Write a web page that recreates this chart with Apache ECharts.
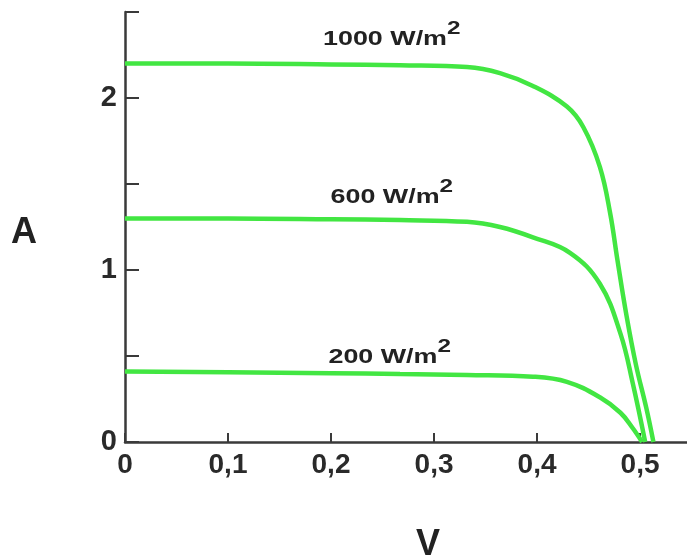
<!DOCTYPE html>
<html>
<head>
<meta charset="utf-8">
<script src="https://cdn.jsdelivr.net/npm/echarts@6/dist/echarts.min.js"></script>
<style>
  html, body { margin: 0; padding: 0; background: #ffffff; }
  #chart { width: 687px; height: 558px; }
</style>
</head>
<body>
<div id="chart"></div>
<script>
// ---- data ----
const curve1000 = [[0,2.20],[0.10,2.20],[0.20,2.195],[0.267,2.19],[0.332,2.18],[0.364,2.145],[0.396,2.07],[0.429,1.95],[0.445,1.83],[0.461,1.60],[0.471,1.33],[0.478,1.06],[0.487,0.73],[0.496,0.45],[0.506,0.20],[0.513,0.0]];
const curve600  = [[0,1.30],[0.10,1.30],[0.20,1.295],[0.267,1.29],[0.332,1.28],[0.364,1.25],[0.396,1.19],[0.432,1.10],[0.461,0.92],[0.481,0.63],[0.493,0.34],[0.505,0.0]];
const curve200  = [[0,0.41],[0.10,0.405],[0.20,0.40],[0.267,0.395],[0.332,0.39],[0.396,0.38],[0.429,0.35],[0.461,0.26],[0.481,0.17],[0.493,0.08],[0.502,0.0]];
const seriesNames = ['1000', '600', '200'];
const annotationPos = [[0.259, 2.37], [0.259, 1.45], [0.257, 0.52]];
const xAxisName = 'V';
const yAxisName = 'A';
const xRange = [0, 0.5456];
const yRange = [0, 2.5];

const GREEN = '#42e642';
const AXIS = '#3a3a3a';
const FONT = 'Liberation Sans';

const chart = echarts.init(document.getElementById('chart'), null, { renderer: 'canvas' });

function xFmt(v) {
  const t = v * 10;
  if (Math.abs(t - Math.round(t)) > 1e-6) return '';
  if (Math.abs(v) < 1e-9) return '0';
  return v.toFixed(1).replace('.', ',');
}
function yFmt(v) {
  if (Math.abs(v - Math.round(v)) > 1e-6) return '';
  return String(Math.round(v));
}

const curves = [curve1000, curve600, curve200];

chart.setOption({
  animation: false,
  backgroundColor: '#ffffff',
  grid: { left: 125, right: 0, top: 12, bottom: 116, containLabel: false, outerBoundsMode: 'none' },
  xAxis: {
    type: 'value',
    min: xRange[0], max: xRange[1], interval: 0.1,
    name: xAxisName,
    nameLocation: 'middle',
    nameGap: 85,
    nameTextStyle: { fontFamily: FONT, fontSize: 36, fontWeight: 'bold', color: '#222', padding: [0, 0, 0, 44] },
    axisLine: { show: true, onZero: false, lineStyle: { color: AXIS, width: 2.5 } },
    axisTick: { show: true, inside: true, length: 9, lineStyle: { color: AXIS, width: 2 } },
    axisLabel: { formatter: xFmt, fontFamily: FONT, fontSize: 28, fontWeight: 'bold', color: '#2a2a2a', margin: 9, showMaxLabel: false },
    splitLine: { show: false }
  },
  yAxis: {
    type: 'value',
    min: yRange[0], max: yRange[1], interval: 0.5,
    name: yAxisName,
    nameLocation: 'middle',
    nameRotate: 0,
    nameGap: 88,
    nameTextStyle: { fontFamily: FONT, fontSize: 36, fontWeight: 'bold', color: '#222', verticalAlign: 'top', lineHeight: 12 },
    axisLine: { show: true, onZero: false, lineStyle: { color: AXIS, width: 2.5 } },
    axisTick: { show: true, inside: true, length: 14, lineStyle: { color: AXIS, width: 2 } },
    axisLabel: { formatter: yFmt, fontFamily: FONT, fontSize: 29, fontWeight: 'bold', color: '#2a2a2a', margin: 8, padding: [4, 0, 0, 0] },
    splitLine: { show: false }
  },
  series: curves.map((c, i) => ({
    name: seriesNames[i],
    type: 'line',
    data: c,
    showSymbol: false,
    smooth: 0.4,
    clip: true,
    lineStyle: { color: GREEN, width: 4.5 }
  }))
});

const graphics = annotationPos.map((p, i) => {
  const px = chart.convertToPixel({ gridIndex: 0 }, p);
  return {
    type: 'text',
    x: px[0], y: px[1],
    scaleX: 1.28, scaleY: 1,
    style: {
      text: '{a|' + seriesNames[i] + ' W/m}{s|2}',
      align: 'center',
      verticalAlign: 'middle',
      rich: {
        a: { fontFamily: FONT, fontSize: 21, fontWeight: 'bold', fill: '#222', color: '#222', verticalAlign: 'bottom', lineHeight: 30 },
        s: { fontFamily: FONT, fontSize: 19, fontWeight: 'bold', fill: '#222', color: '#222', verticalAlign: 'top', lineHeight: 30 }
      }
    }
  };
});
chart.setOption({ graphic: graphics });
</script>
</body>
</html>
